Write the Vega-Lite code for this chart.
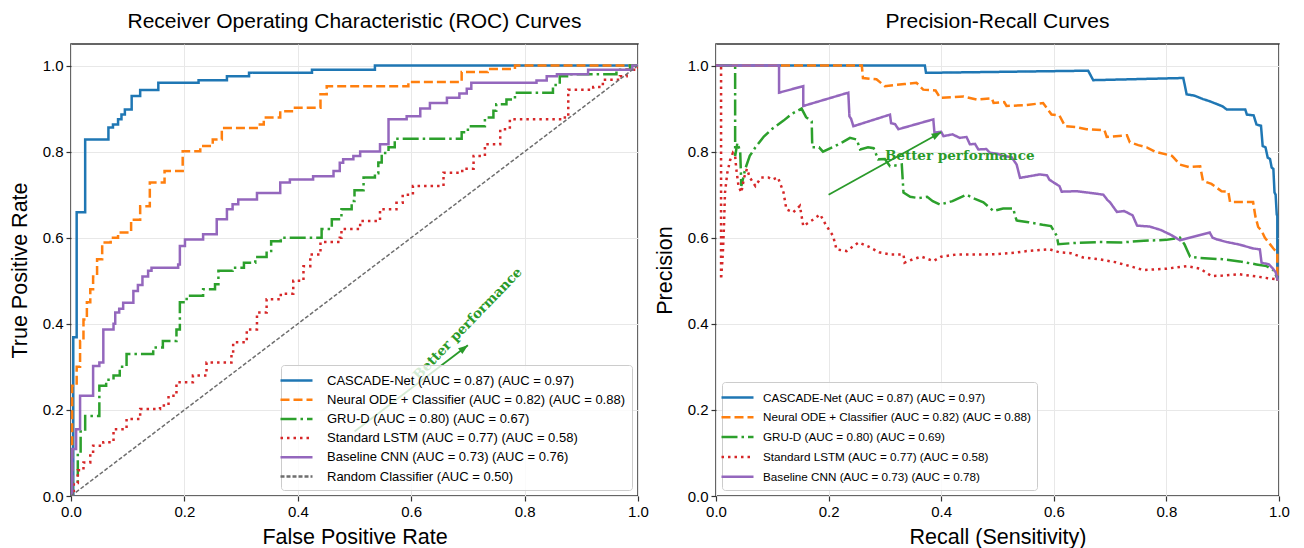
{
  "$schema": "https://vega.github.io/schema/vega-lite/v6.json",
  "background": "white",
  "padding": {"left": 8, "top": 10, "right": 25, "bottom": 2},
  "bounds": "flush",
  "spacing": 78,
  "config": {
    "font": "Liberation Sans",
    "view": {"stroke": "#333333", "strokeWidth": 1.5},
    "axis": {
      "grid": true, "gridColor": "#e8e8e8", "gridWidth": 1, "domain": false,
      "tickColor": "#333333", "tickSize": 5, "tickWidth": 1.2, "labelFlush": false,
      "labelFont": "Liberation Sans", "labelFontSize": 15, "labelColor": "#000000", "labelPadding": 3,
      "titleFont": "Liberation Sans", "titleFontSize": 21.5, "titleFontWeight": "normal", "titleColor": "#000000"
    },
    "axisX": {"titlePadding": 7},
    "axisY": {"titlePadding": 11},
    "title": {"font": "Liberation Sans", "fontSize": 21, "fontWeight": "normal", "color": "#000000", "offset": 12},
    "legend": {
      "labelFont": "Liberation Sans", "labelFontSize": 13, "labelColor": "#000000", "labelLimit": 0,
      "symbolType": "M-2,0H2", "symbolSize": 256, "symbolStrokeWidth": 2.5,
      "labelOffset": 21, "rowPadding": 2.2, "padding": 6,
      "fillColor": "rgba(255,255,255,0.8)", "strokeColor": "#cccccc", "cornerRadius": 3,
      "title": null
    }
  },
  "datasets": {
    "roc_labels": [
      {"model": "CASCADE-Net", "label": "CASCADE-Net (AUC = 0.87) (AUC = 0.97)"},
      {"model": "Neural ODE + Classifier", "label": "Neural ODE + Classifier (AUC = 0.82) (AUC = 0.88)"},
      {"model": "GRU-D", "label": "GRU-D (AUC = 0.80) (AUC = 0.67)"},
      {"model": "Standard LSTM", "label": "Standard LSTM (AUC = 0.77) (AUC = 0.58)"},
      {"model": "Baseline CNN", "label": "Baseline CNN (AUC = 0.73) (AUC = 0.76)"},
      {"model": "Random Classifier", "label": "Random Classifier (AUC = 0.50)"}
    ],
    "pr_labels": [
      {"model": "CASCADE-Net", "label": "CASCADE-Net (AUC = 0.87) (AUC = 0.97)"},
      {"model": "Neural ODE + Classifier", "label": "Neural ODE + Classifier (AUC = 0.82) (AUC = 0.88)"},
      {"model": "GRU-D", "label": "GRU-D (AUC = 0.80) (AUC = 0.69)"},
      {"model": "Standard LSTM", "label": "Standard LSTM (AUC = 0.77) (AUC = 0.58)"},
      {"model": "Baseline CNN", "label": "Baseline CNN (AUC = 0.73) (AUC = 0.78)"}
    ],
    "roc": [
      {"model": "CASCADE-Net", "x": 0, "y": 0},
      {"model": "CASCADE-Net", "x": 0.004, "y": 0.369},
      {"model": "CASCADE-Net", "x": 0.01, "y": 0.659},
      {"model": "CASCADE-Net", "x": 0.025, "y": 0.828},
      {"model": "CASCADE-Net", "x": 0.066, "y": 0.856},
      {"model": "CASCADE-Net", "x": 0.074, "y": 0.863},
      {"model": "CASCADE-Net", "x": 0.083, "y": 0.875},
      {"model": "CASCADE-Net", "x": 0.089, "y": 0.886},
      {"model": "CASCADE-Net", "x": 0.095, "y": 0.898},
      {"model": "CASCADE-Net", "x": 0.107, "y": 0.929},
      {"model": "CASCADE-Net", "x": 0.122, "y": 0.943},
      {"model": "CASCADE-Net", "x": 0.154, "y": 0.96},
      {"model": "CASCADE-Net", "x": 0.225, "y": 0.966},
      {"model": "CASCADE-Net", "x": 0.275, "y": 0.975},
      {"model": "CASCADE-Net", "x": 0.314, "y": 0.983},
      {"model": "CASCADE-Net", "x": 0.425, "y": 0.99},
      {"model": "CASCADE-Net", "x": 0.536, "y": 1.0},
      {"model": "CASCADE-Net", "x": 1.0, "y": 1.0},

      {"model": "Neural ODE + Classifier", "x": 0, "y": 0},
      {"model": "Neural ODE + Classifier", "x": 0.002, "y": 0.256},
      {"model": "Neural ODE + Classifier", "x": 0.01, "y": 0.3},
      {"model": "Neural ODE + Classifier", "x": 0.016, "y": 0.36},
      {"model": "Neural ODE + Classifier", "x": 0.022, "y": 0.41},
      {"model": "Neural ODE + Classifier", "x": 0.028, "y": 0.45},
      {"model": "Neural ODE + Classifier", "x": 0.034, "y": 0.48},
      {"model": "Neural ODE + Classifier", "x": 0.039, "y": 0.51},
      {"model": "Neural ODE + Classifier", "x": 0.046, "y": 0.55},
      {"model": "Neural ODE + Classifier", "x": 0.055, "y": 0.589},
      {"model": "Neural ODE + Classifier", "x": 0.07, "y": 0.6},
      {"model": "Neural ODE + Classifier", "x": 0.083, "y": 0.612},
      {"model": "Neural ODE + Classifier", "x": 0.106, "y": 0.642},
      {"model": "Neural ODE + Classifier", "x": 0.122, "y": 0.673},
      {"model": "Neural ODE + Classifier", "x": 0.139, "y": 0.728},
      {"model": "Neural ODE + Classifier", "x": 0.165, "y": 0.755},
      {"model": "Neural ODE + Classifier", "x": 0.197, "y": 0.801},
      {"model": "Neural ODE + Classifier", "x": 0.228, "y": 0.813},
      {"model": "Neural ODE + Classifier", "x": 0.25, "y": 0.828},
      {"model": "Neural ODE + Classifier", "x": 0.266, "y": 0.855},
      {"model": "Neural ODE + Classifier", "x": 0.333, "y": 0.863},
      {"model": "Neural ODE + Classifier", "x": 0.34, "y": 0.879},
      {"model": "Neural ODE + Classifier", "x": 0.369, "y": 0.894},
      {"model": "Neural ODE + Classifier", "x": 0.392, "y": 0.902},
      {"model": "Neural ODE + Classifier", "x": 0.44, "y": 0.933},
      {"model": "Neural ODE + Classifier", "x": 0.451, "y": 0.952},
      {"model": "Neural ODE + Classifier", "x": 0.595, "y": 0.962},
      {"model": "Neural ODE + Classifier", "x": 0.689, "y": 0.985},
      {"model": "Neural ODE + Classifier", "x": 0.735, "y": 0.992},
      {"model": "Neural ODE + Classifier", "x": 0.783, "y": 1.0},
      {"model": "Neural ODE + Classifier", "x": 1.0, "y": 1.0},

      {"model": "GRU-D", "x": 0, "y": 0},
      {"model": "GRU-D", "x": 0.003, "y": 0.03},
      {"model": "GRU-D", "x": 0.012, "y": 0.1},
      {"model": "GRU-D", "x": 0.017, "y": 0.15},
      {"model": "GRU-D", "x": 0.025, "y": 0.186},
      {"model": "GRU-D", "x": 0.05, "y": 0.256},
      {"model": "GRU-D", "x": 0.062, "y": 0.27},
      {"model": "GRU-D", "x": 0.075, "y": 0.28},
      {"model": "GRU-D", "x": 0.086, "y": 0.3},
      {"model": "GRU-D", "x": 0.098, "y": 0.33},
      {"model": "GRU-D", "x": 0.145, "y": 0.345},
      {"model": "GRU-D", "x": 0.162, "y": 0.36},
      {"model": "GRU-D", "x": 0.186, "y": 0.387},
      {"model": "GRU-D", "x": 0.192, "y": 0.45},
      {"model": "GRU-D", "x": 0.204, "y": 0.465},
      {"model": "GRU-D", "x": 0.233, "y": 0.48},
      {"model": "GRU-D", "x": 0.254, "y": 0.492},
      {"model": "GRU-D", "x": 0.26, "y": 0.523},
      {"model": "GRU-D", "x": 0.285, "y": 0.53},
      {"model": "GRU-D", "x": 0.305, "y": 0.542},
      {"model": "GRU-D", "x": 0.325, "y": 0.555},
      {"model": "GRU-D", "x": 0.345, "y": 0.569},
      {"model": "GRU-D", "x": 0.353, "y": 0.592},
      {"model": "GRU-D", "x": 0.37, "y": 0.6},
      {"model": "GRU-D", "x": 0.442, "y": 0.62},
      {"model": "GRU-D", "x": 0.46, "y": 0.643},
      {"model": "GRU-D", "x": 0.477, "y": 0.666},
      {"model": "GRU-D", "x": 0.495, "y": 0.685},
      {"model": "GRU-D", "x": 0.5, "y": 0.71},
      {"model": "GRU-D", "x": 0.516, "y": 0.74},
      {"model": "GRU-D", "x": 0.536, "y": 0.75},
      {"model": "GRU-D", "x": 0.542, "y": 0.775},
      {"model": "GRU-D", "x": 0.548, "y": 0.797},
      {"model": "GRU-D", "x": 0.56, "y": 0.81},
      {"model": "GRU-D", "x": 0.571, "y": 0.83},
      {"model": "GRU-D", "x": 0.689, "y": 0.845},
      {"model": "GRU-D", "x": 0.7, "y": 0.859},
      {"model": "GRU-D", "x": 0.73, "y": 0.879},
      {"model": "GRU-D", "x": 0.745, "y": 0.895},
      {"model": "GRU-D", "x": 0.75, "y": 0.91},
      {"model": "GRU-D", "x": 0.768, "y": 0.921},
      {"model": "GRU-D", "x": 0.783, "y": 0.937},
      {"model": "GRU-D", "x": 0.85, "y": 0.955},
      {"model": "GRU-D", "x": 0.862, "y": 0.975},
      {"model": "GRU-D", "x": 0.88, "y": 0.98},
      {"model": "GRU-D", "x": 0.962, "y": 0.99},
      {"model": "GRU-D", "x": 0.986, "y": 1.0},
      {"model": "GRU-D", "x": 1.0, "y": 1.0},

      {"model": "Standard LSTM", "x": 0, "y": 0},
      {"model": "Standard LSTM", "x": 0.005, "y": 0.03},
      {"model": "Standard LSTM", "x": 0.012, "y": 0.06},
      {"model": "Standard LSTM", "x": 0.022, "y": 0.078},
      {"model": "Standard LSTM", "x": 0.034, "y": 0.094},
      {"model": "Standard LSTM", "x": 0.039, "y": 0.117},
      {"model": "Standard LSTM", "x": 0.057, "y": 0.125},
      {"model": "Standard LSTM", "x": 0.075, "y": 0.155},
      {"model": "Standard LSTM", "x": 0.098, "y": 0.179},
      {"model": "Standard LSTM", "x": 0.122, "y": 0.202},
      {"model": "Standard LSTM", "x": 0.157, "y": 0.21},
      {"model": "Standard LSTM", "x": 0.172, "y": 0.233},
      {"model": "Standard LSTM", "x": 0.186, "y": 0.264},
      {"model": "Standard LSTM", "x": 0.215, "y": 0.28},
      {"model": "Standard LSTM", "x": 0.239, "y": 0.31},
      {"model": "Standard LSTM", "x": 0.283, "y": 0.33},
      {"model": "Standard LSTM", "x": 0.286, "y": 0.357},
      {"model": "Standard LSTM", "x": 0.31, "y": 0.387},
      {"model": "Standard LSTM", "x": 0.328, "y": 0.426},
      {"model": "Standard LSTM", "x": 0.345, "y": 0.457},
      {"model": "Standard LSTM", "x": 0.37, "y": 0.47},
      {"model": "Standard LSTM", "x": 0.392, "y": 0.5},
      {"model": "Standard LSTM", "x": 0.41, "y": 0.534},
      {"model": "Standard LSTM", "x": 0.422, "y": 0.561},
      {"model": "Standard LSTM", "x": 0.44, "y": 0.59},
      {"model": "Standard LSTM", "x": 0.474, "y": 0.6},
      {"model": "Standard LSTM", "x": 0.477, "y": 0.62},
      {"model": "Standard LSTM", "x": 0.51, "y": 0.639},
      {"model": "Standard LSTM", "x": 0.545, "y": 0.666},
      {"model": "Standard LSTM", "x": 0.574, "y": 0.681},
      {"model": "Standard LSTM", "x": 0.585, "y": 0.7},
      {"model": "Standard LSTM", "x": 0.603, "y": 0.72},
      {"model": "Standard LSTM", "x": 0.657, "y": 0.751},
      {"model": "Standard LSTM", "x": 0.69, "y": 0.76},
      {"model": "Standard LSTM", "x": 0.71, "y": 0.79},
      {"model": "Standard LSTM", "x": 0.73, "y": 0.817},
      {"model": "Standard LSTM", "x": 0.757, "y": 0.852},
      {"model": "Standard LSTM", "x": 0.774, "y": 0.875},
      {"model": "Standard LSTM", "x": 0.868, "y": 0.879},
      {"model": "Standard LSTM", "x": 0.877, "y": 0.944},
      {"model": "Standard LSTM", "x": 0.921, "y": 0.95},
      {"model": "Standard LSTM", "x": 0.938, "y": 0.967},
      {"model": "Standard LSTM", "x": 0.968, "y": 0.975},
      {"model": "Standard LSTM", "x": 0.98, "y": 0.99},
      {"model": "Standard LSTM", "x": 1.0, "y": 1.0},

      {"model": "Baseline CNN", "x": 0, "y": 0},
      {"model": "Baseline CNN", "x": 0.002, "y": 0.109},
      {"model": "Baseline CNN", "x": 0.009, "y": 0.155},
      {"model": "Baseline CNN", "x": 0.016, "y": 0.233},
      {"model": "Baseline CNN", "x": 0.039, "y": 0.302},
      {"model": "Baseline CNN", "x": 0.05, "y": 0.31},
      {"model": "Baseline CNN", "x": 0.057, "y": 0.387},
      {"model": "Baseline CNN", "x": 0.075, "y": 0.4},
      {"model": "Baseline CNN", "x": 0.078, "y": 0.426},
      {"model": "Baseline CNN", "x": 0.085, "y": 0.435},
      {"model": "Baseline CNN", "x": 0.092, "y": 0.449},
      {"model": "Baseline CNN", "x": 0.11, "y": 0.476},
      {"model": "Baseline CNN", "x": 0.118, "y": 0.49},
      {"model": "Baseline CNN", "x": 0.126, "y": 0.51},
      {"model": "Baseline CNN", "x": 0.136, "y": 0.523},
      {"model": "Baseline CNN", "x": 0.142, "y": 0.53},
      {"model": "Baseline CNN", "x": 0.189, "y": 0.538},
      {"model": "Baseline CNN", "x": 0.192, "y": 0.581},
      {"model": "Baseline CNN", "x": 0.201, "y": 0.596},
      {"model": "Baseline CNN", "x": 0.233, "y": 0.608},
      {"model": "Baseline CNN", "x": 0.257, "y": 0.643},
      {"model": "Baseline CNN", "x": 0.275, "y": 0.666},
      {"model": "Baseline CNN", "x": 0.285, "y": 0.678},
      {"model": "Baseline CNN", "x": 0.295, "y": 0.689},
      {"model": "Baseline CNN", "x": 0.328, "y": 0.704},
      {"model": "Baseline CNN", "x": 0.369, "y": 0.728},
      {"model": "Baseline CNN", "x": 0.386, "y": 0.735},
      {"model": "Baseline CNN", "x": 0.427, "y": 0.743},
      {"model": "Baseline CNN", "x": 0.463, "y": 0.755},
      {"model": "Baseline CNN", "x": 0.474, "y": 0.774},
      {"model": "Baseline CNN", "x": 0.48, "y": 0.782},
      {"model": "Baseline CNN", "x": 0.498, "y": 0.79},
      {"model": "Baseline CNN", "x": 0.51, "y": 0.8},
      {"model": "Baseline CNN", "x": 0.545, "y": 0.817},
      {"model": "Baseline CNN", "x": 0.56, "y": 0.875},
      {"model": "Baseline CNN", "x": 0.592, "y": 0.882},
      {"model": "Baseline CNN", "x": 0.616, "y": 0.9},
      {"model": "Baseline CNN", "x": 0.633, "y": 0.913},
      {"model": "Baseline CNN", "x": 0.663, "y": 0.925},
      {"model": "Baseline CNN", "x": 0.685, "y": 0.935},
      {"model": "Baseline CNN", "x": 0.698, "y": 0.946},
      {"model": "Baseline CNN", "x": 0.706, "y": 0.96},
      {"model": "Baseline CNN", "x": 0.821, "y": 0.965},
      {"model": "Baseline CNN", "x": 0.839, "y": 0.975},
      {"model": "Baseline CNN", "x": 0.857, "y": 0.98},
      {"model": "Baseline CNN", "x": 0.912, "y": 0.99},
      {"model": "Baseline CNN", "x": 0.99, "y": 1.0},
      {"model": "Baseline CNN", "x": 1.0, "y": 1.0},

      {"model": "Random Classifier", "x": 0, "y": 0},
      {"model": "Random Classifier", "x": 1, "y": 1}
    ],
    "pr": [
      {"model": "CASCADE-Net", "x": 0, "y": 1.0},
      {"model": "CASCADE-Net", "x": 0.371, "y": 1.0},
      {"model": "CASCADE-Net", "x": 0.373, "y": 0.983},
      {"model": "CASCADE-Net", "x": 0.661, "y": 0.988},
      {"model": "CASCADE-Net", "x": 0.67, "y": 0.966},
      {"model": "CASCADE-Net", "x": 0.83, "y": 0.971},
      {"model": "CASCADE-Net", "x": 0.836, "y": 0.933},
      {"model": "CASCADE-Net", "x": 0.85, "y": 0.93},
      {"model": "CASCADE-Net", "x": 0.865, "y": 0.922},
      {"model": "CASCADE-Net", "x": 0.877, "y": 0.917},
      {"model": "CASCADE-Net", "x": 0.9, "y": 0.905},
      {"model": "CASCADE-Net", "x": 0.907, "y": 0.898},
      {"model": "CASCADE-Net", "x": 0.94, "y": 0.898},
      {"model": "CASCADE-Net", "x": 0.943, "y": 0.886},
      {"model": "CASCADE-Net", "x": 0.955, "y": 0.884},
      {"model": "CASCADE-Net", "x": 0.96, "y": 0.863},
      {"model": "CASCADE-Net", "x": 0.968, "y": 0.86},
      {"model": "CASCADE-Net", "x": 0.971, "y": 0.813},
      {"model": "CASCADE-Net", "x": 0.976, "y": 0.81},
      {"model": "CASCADE-Net", "x": 0.98, "y": 0.786},
      {"model": "CASCADE-Net", "x": 0.984, "y": 0.783},
      {"model": "CASCADE-Net", "x": 0.987, "y": 0.763},
      {"model": "CASCADE-Net", "x": 0.99, "y": 0.76},
      {"model": "CASCADE-Net", "x": 0.992, "y": 0.705},
      {"model": "CASCADE-Net", "x": 0.994, "y": 0.7},
      {"model": "CASCADE-Net", "x": 0.996, "y": 0.654},
      {"model": "CASCADE-Net", "x": 0.997, "y": 0.65},
      {"model": "CASCADE-Net", "x": 0.997, "y": 0.5},

      {"model": "Neural ODE + Classifier", "x": 0, "y": 1.0},
      {"model": "Neural ODE + Classifier", "x": 0.259, "y": 1.0},
      {"model": "Neural ODE + Classifier", "x": 0.261, "y": 0.971},
      {"model": "Neural ODE + Classifier", "x": 0.285, "y": 0.968},
      {"model": "Neural ODE + Classifier", "x": 0.3, "y": 0.952},
      {"model": "Neural ODE + Classifier", "x": 0.335, "y": 0.957},
      {"model": "Neural ODE + Classifier", "x": 0.356, "y": 0.96},
      {"model": "Neural ODE + Classifier", "x": 0.368, "y": 0.944},
      {"model": "Neural ODE + Classifier", "x": 0.39, "y": 0.942},
      {"model": "Neural ODE + Classifier", "x": 0.398, "y": 0.925},
      {"model": "Neural ODE + Classifier", "x": 0.44, "y": 0.928},
      {"model": "Neural ODE + Classifier", "x": 0.463, "y": 0.921},
      {"model": "Neural ODE + Classifier", "x": 0.49, "y": 0.924},
      {"model": "Neural ODE + Classifier", "x": 0.493, "y": 0.913},
      {"model": "Neural ODE + Classifier", "x": 0.512, "y": 0.915},
      {"model": "Neural ODE + Classifier", "x": 0.516, "y": 0.906},
      {"model": "Neural ODE + Classifier", "x": 0.55, "y": 0.908},
      {"model": "Neural ODE + Classifier", "x": 0.581, "y": 0.913},
      {"model": "Neural ODE + Classifier", "x": 0.596, "y": 0.886},
      {"model": "Neural ODE + Classifier", "x": 0.61, "y": 0.884},
      {"model": "Neural ODE + Classifier", "x": 0.62, "y": 0.859},
      {"model": "Neural ODE + Classifier", "x": 0.64, "y": 0.857},
      {"model": "Neural ODE + Classifier", "x": 0.658, "y": 0.852},
      {"model": "Neural ODE + Classifier", "x": 0.69, "y": 0.85},
      {"model": "Neural ODE + Classifier", "x": 0.694, "y": 0.834},
      {"model": "Neural ODE + Classifier", "x": 0.73, "y": 0.838},
      {"model": "Neural ODE + Classifier", "x": 0.735, "y": 0.822},
      {"model": "Neural ODE + Classifier", "x": 0.75, "y": 0.815},
      {"model": "Neural ODE + Classifier", "x": 0.765, "y": 0.81},
      {"model": "Neural ODE + Classifier", "x": 0.78, "y": 0.8},
      {"model": "Neural ODE + Classifier", "x": 0.81, "y": 0.79},
      {"model": "Neural ODE + Classifier", "x": 0.824, "y": 0.77},
      {"model": "Neural ODE + Classifier", "x": 0.84, "y": 0.764},
      {"model": "Neural ODE + Classifier", "x": 0.86, "y": 0.766},
      {"model": "Neural ODE + Classifier", "x": 0.865, "y": 0.732},
      {"model": "Neural ODE + Classifier", "x": 0.88, "y": 0.725},
      {"model": "Neural ODE + Classifier", "x": 0.898, "y": 0.708},
      {"model": "Neural ODE + Classifier", "x": 0.91, "y": 0.707},
      {"model": "Neural ODE + Classifier", "x": 0.913, "y": 0.683},
      {"model": "Neural ODE + Classifier", "x": 0.954, "y": 0.683},
      {"model": "Neural ODE + Classifier", "x": 0.958, "y": 0.65},
      {"model": "Neural ODE + Classifier", "x": 0.963, "y": 0.625},
      {"model": "Neural ODE + Classifier", "x": 0.969, "y": 0.616},
      {"model": "Neural ODE + Classifier", "x": 0.975, "y": 0.6},
      {"model": "Neural ODE + Classifier", "x": 0.99, "y": 0.575},
      {"model": "Neural ODE + Classifier", "x": 0.997, "y": 0.565},
      {"model": "Neural ODE + Classifier", "x": 0.997, "y": 0.5},

      {"model": "GRU-D", "x": 0, "y": 1.0},
      {"model": "GRU-D", "x": 0.034, "y": 1.0},
      {"model": "GRU-D", "x": 0.034, "y": 0.79},
      {"model": "GRU-D", "x": 0.038, "y": 0.82},
      {"model": "GRU-D", "x": 0.043, "y": 0.8},
      {"model": "GRU-D", "x": 0.045, "y": 0.72},
      {"model": "GRU-D", "x": 0.052, "y": 0.76},
      {"model": "GRU-D", "x": 0.06, "y": 0.79},
      {"model": "GRU-D", "x": 0.07, "y": 0.81},
      {"model": "GRU-D", "x": 0.085, "y": 0.835},
      {"model": "GRU-D", "x": 0.1, "y": 0.853},
      {"model": "GRU-D", "x": 0.12, "y": 0.872},
      {"model": "GRU-D", "x": 0.135, "y": 0.888},
      {"model": "GRU-D", "x": 0.152, "y": 0.9},
      {"model": "GRU-D", "x": 0.16, "y": 0.88},
      {"model": "GRU-D", "x": 0.17, "y": 0.87},
      {"model": "GRU-D", "x": 0.171, "y": 0.81},
      {"model": "GRU-D", "x": 0.183, "y": 0.81},
      {"model": "GRU-D", "x": 0.19, "y": 0.8},
      {"model": "GRU-D", "x": 0.21, "y": 0.812},
      {"model": "GRU-D", "x": 0.225, "y": 0.822},
      {"model": "GRU-D", "x": 0.238, "y": 0.832},
      {"model": "GRU-D", "x": 0.25, "y": 0.828},
      {"model": "GRU-D", "x": 0.256, "y": 0.805},
      {"model": "GRU-D", "x": 0.27, "y": 0.81},
      {"model": "GRU-D", "x": 0.28, "y": 0.808},
      {"model": "GRU-D", "x": 0.288, "y": 0.782},
      {"model": "GRU-D", "x": 0.3, "y": 0.783},
      {"model": "GRU-D", "x": 0.309, "y": 0.766},
      {"model": "GRU-D", "x": 0.33, "y": 0.77},
      {"model": "GRU-D", "x": 0.333, "y": 0.705},
      {"model": "GRU-D", "x": 0.345, "y": 0.695},
      {"model": "GRU-D", "x": 0.36, "y": 0.692},
      {"model": "GRU-D", "x": 0.375, "y": 0.695},
      {"model": "GRU-D", "x": 0.385, "y": 0.685},
      {"model": "GRU-D", "x": 0.398, "y": 0.677},
      {"model": "GRU-D", "x": 0.42, "y": 0.685},
      {"model": "GRU-D", "x": 0.445, "y": 0.7},
      {"model": "GRU-D", "x": 0.46, "y": 0.69},
      {"model": "GRU-D", "x": 0.475, "y": 0.682},
      {"model": "GRU-D", "x": 0.493, "y": 0.662},
      {"model": "GRU-D", "x": 0.51, "y": 0.668},
      {"model": "GRU-D", "x": 0.528, "y": 0.668},
      {"model": "GRU-D", "x": 0.531, "y": 0.652},
      {"model": "GRU-D", "x": 0.534, "y": 0.64},
      {"model": "GRU-D", "x": 0.555, "y": 0.636},
      {"model": "GRU-D", "x": 0.58, "y": 0.63},
      {"model": "GRU-D", "x": 0.595, "y": 0.627},
      {"model": "GRU-D", "x": 0.605, "y": 0.605},
      {"model": "GRU-D", "x": 0.608, "y": 0.585},
      {"model": "GRU-D", "x": 0.64, "y": 0.588},
      {"model": "GRU-D", "x": 0.68, "y": 0.59},
      {"model": "GRU-D", "x": 0.72, "y": 0.589},
      {"model": "GRU-D", "x": 0.76, "y": 0.593},
      {"model": "GRU-D", "x": 0.8, "y": 0.595},
      {"model": "GRU-D", "x": 0.824, "y": 0.6},
      {"model": "GRU-D", "x": 0.832, "y": 0.585},
      {"model": "GRU-D", "x": 0.842, "y": 0.556},
      {"model": "GRU-D", "x": 0.86, "y": 0.553},
      {"model": "GRU-D", "x": 0.9, "y": 0.55},
      {"model": "GRU-D", "x": 0.93, "y": 0.545},
      {"model": "GRU-D", "x": 0.96, "y": 0.538},
      {"model": "GRU-D", "x": 0.978, "y": 0.534},
      {"model": "GRU-D", "x": 0.99, "y": 0.525},
      {"model": "GRU-D", "x": 0.998, "y": 0.503},

      {"model": "Standard LSTM", "x": 0, "y": 1.0},
      {"model": "Standard LSTM", "x": 0.009, "y": 1.0},
      {"model": "Standard LSTM", "x": 0.009, "y": 0.503},
      {"model": "Standard LSTM", "x": 0.012, "y": 0.56},
      {"model": "Standard LSTM", "x": 0.014, "y": 0.62},
      {"model": "Standard LSTM", "x": 0.016, "y": 0.705},
      {"model": "Standard LSTM", "x": 0.02, "y": 0.75},
      {"model": "Standard LSTM", "x": 0.025, "y": 0.78},
      {"model": "Standard LSTM", "x": 0.03, "y": 0.797},
      {"model": "Standard LSTM", "x": 0.034, "y": 0.79},
      {"model": "Standard LSTM", "x": 0.036, "y": 0.76},
      {"model": "Standard LSTM", "x": 0.04, "y": 0.72},
      {"model": "Standard LSTM", "x": 0.045, "y": 0.705},
      {"model": "Standard LSTM", "x": 0.05, "y": 0.74},
      {"model": "Standard LSTM", "x": 0.055, "y": 0.76},
      {"model": "Standard LSTM", "x": 0.06, "y": 0.74},
      {"model": "Standard LSTM", "x": 0.07, "y": 0.72},
      {"model": "Standard LSTM", "x": 0.08, "y": 0.74},
      {"model": "Standard LSTM", "x": 0.093, "y": 0.74},
      {"model": "Standard LSTM", "x": 0.1, "y": 0.735},
      {"model": "Standard LSTM", "x": 0.11, "y": 0.74},
      {"model": "Standard LSTM", "x": 0.12, "y": 0.705},
      {"model": "Standard LSTM", "x": 0.125, "y": 0.666},
      {"model": "Standard LSTM", "x": 0.137, "y": 0.659},
      {"model": "Standard LSTM", "x": 0.149, "y": 0.674},
      {"model": "Standard LSTM", "x": 0.155, "y": 0.627},
      {"model": "Standard LSTM", "x": 0.17, "y": 0.64},
      {"model": "Standard LSTM", "x": 0.185, "y": 0.654},
      {"model": "Standard LSTM", "x": 0.195, "y": 0.63},
      {"model": "Standard LSTM", "x": 0.208, "y": 0.604},
      {"model": "Standard LSTM", "x": 0.214, "y": 0.573},
      {"model": "Standard LSTM", "x": 0.232, "y": 0.569},
      {"model": "Standard LSTM", "x": 0.253, "y": 0.589},
      {"model": "Standard LSTM", "x": 0.27, "y": 0.58},
      {"model": "Standard LSTM", "x": 0.29, "y": 0.566},
      {"model": "Standard LSTM", "x": 0.309, "y": 0.561},
      {"model": "Standard LSTM", "x": 0.333, "y": 0.561},
      {"model": "Standard LSTM", "x": 0.335, "y": 0.542},
      {"model": "Standard LSTM", "x": 0.35, "y": 0.55},
      {"model": "Standard LSTM", "x": 0.365, "y": 0.556},
      {"model": "Standard LSTM", "x": 0.386, "y": 0.546},
      {"model": "Standard LSTM", "x": 0.4, "y": 0.556},
      {"model": "Standard LSTM", "x": 0.427, "y": 0.561},
      {"model": "Standard LSTM", "x": 0.47, "y": 0.561},
      {"model": "Standard LSTM", "x": 0.5, "y": 0.562},
      {"model": "Standard LSTM", "x": 0.53, "y": 0.565},
      {"model": "Standard LSTM", "x": 0.552, "y": 0.569},
      {"model": "Standard LSTM", "x": 0.593, "y": 0.573},
      {"model": "Standard LSTM", "x": 0.61, "y": 0.566},
      {"model": "Standard LSTM", "x": 0.63, "y": 0.564},
      {"model": "Standard LSTM", "x": 0.652, "y": 0.554},
      {"model": "Standard LSTM", "x": 0.68, "y": 0.55},
      {"model": "Standard LSTM", "x": 0.71, "y": 0.543},
      {"model": "Standard LSTM", "x": 0.735, "y": 0.534},
      {"model": "Standard LSTM", "x": 0.759, "y": 0.525},
      {"model": "Standard LSTM", "x": 0.8, "y": 0.528},
      {"model": "Standard LSTM", "x": 0.836, "y": 0.534},
      {"model": "Standard LSTM", "x": 0.86, "y": 0.528},
      {"model": "Standard LSTM", "x": 0.88, "y": 0.511},
      {"model": "Standard LSTM", "x": 0.9, "y": 0.512},
      {"model": "Standard LSTM", "x": 0.93, "y": 0.515},
      {"model": "Standard LSTM", "x": 0.96, "y": 0.51},
      {"model": "Standard LSTM", "x": 0.98, "y": 0.506},
      {"model": "Standard LSTM", "x": 0.998, "y": 0.503},

      {"model": "Baseline CNN", "x": 0, "y": 1.0},
      {"model": "Baseline CNN", "x": 0.112, "y": 1.0},
      {"model": "Baseline CNN", "x": 0.112, "y": 0.937},
      {"model": "Baseline CNN", "x": 0.155, "y": 0.952},
      {"model": "Baseline CNN", "x": 0.155, "y": 0.906},
      {"model": "Baseline CNN", "x": 0.235, "y": 0.937},
      {"model": "Baseline CNN", "x": 0.237, "y": 0.882},
      {"model": "Baseline CNN", "x": 0.24, "y": 0.876},
      {"model": "Baseline CNN", "x": 0.244, "y": 0.859},
      {"model": "Baseline CNN", "x": 0.309, "y": 0.886},
      {"model": "Baseline CNN", "x": 0.311, "y": 0.866},
      {"model": "Baseline CNN", "x": 0.318, "y": 0.864},
      {"model": "Baseline CNN", "x": 0.324, "y": 0.852},
      {"model": "Baseline CNN", "x": 0.386, "y": 0.875},
      {"model": "Baseline CNN", "x": 0.388, "y": 0.844},
      {"model": "Baseline CNN", "x": 0.4, "y": 0.846},
      {"model": "Baseline CNN", "x": 0.404, "y": 0.836},
      {"model": "Baseline CNN", "x": 0.42, "y": 0.84},
      {"model": "Baseline CNN", "x": 0.433, "y": 0.832},
      {"model": "Baseline CNN", "x": 0.445, "y": 0.834},
      {"model": "Baseline CNN", "x": 0.451, "y": 0.817},
      {"model": "Baseline CNN", "x": 0.46, "y": 0.818},
      {"model": "Baseline CNN", "x": 0.466, "y": 0.805},
      {"model": "Baseline CNN", "x": 0.48, "y": 0.806},
      {"model": "Baseline CNN", "x": 0.487, "y": 0.797},
      {"model": "Baseline CNN", "x": 0.5, "y": 0.795},
      {"model": "Baseline CNN", "x": 0.51, "y": 0.79},
      {"model": "Baseline CNN", "x": 0.525, "y": 0.787},
      {"model": "Baseline CNN", "x": 0.534, "y": 0.77},
      {"model": "Baseline CNN", "x": 0.54, "y": 0.739},
      {"model": "Baseline CNN", "x": 0.575, "y": 0.747},
      {"model": "Baseline CNN", "x": 0.588, "y": 0.745},
      {"model": "Baseline CNN", "x": 0.592, "y": 0.735},
      {"model": "Baseline CNN", "x": 0.6, "y": 0.728},
      {"model": "Baseline CNN", "x": 0.61, "y": 0.72},
      {"model": "Baseline CNN", "x": 0.614, "y": 0.707},
      {"model": "Baseline CNN", "x": 0.64, "y": 0.708},
      {"model": "Baseline CNN", "x": 0.66, "y": 0.705},
      {"model": "Baseline CNN", "x": 0.688, "y": 0.7},
      {"model": "Baseline CNN", "x": 0.695, "y": 0.688},
      {"model": "Baseline CNN", "x": 0.7, "y": 0.682},
      {"model": "Baseline CNN", "x": 0.712, "y": 0.66},
      {"model": "Baseline CNN", "x": 0.725, "y": 0.662},
      {"model": "Baseline CNN", "x": 0.74, "y": 0.652},
      {"model": "Baseline CNN", "x": 0.748, "y": 0.628},
      {"model": "Baseline CNN", "x": 0.77, "y": 0.626},
      {"model": "Baseline CNN", "x": 0.79, "y": 0.618},
      {"model": "Baseline CNN", "x": 0.809, "y": 0.606},
      {"model": "Baseline CNN", "x": 0.824, "y": 0.594},
      {"model": "Baseline CNN", "x": 0.877, "y": 0.612},
      {"model": "Baseline CNN", "x": 0.882, "y": 0.6},
      {"model": "Baseline CNN", "x": 0.89, "y": 0.596},
      {"model": "Baseline CNN", "x": 0.907, "y": 0.59},
      {"model": "Baseline CNN", "x": 0.93, "y": 0.584},
      {"model": "Baseline CNN", "x": 0.954, "y": 0.575},
      {"model": "Baseline CNN", "x": 0.966, "y": 0.573},
      {"model": "Baseline CNN", "x": 0.969, "y": 0.542},
      {"model": "Baseline CNN", "x": 0.982, "y": 0.538},
      {"model": "Baseline CNN", "x": 0.988, "y": 0.53},
      {"model": "Baseline CNN", "x": 0.994, "y": 0.52},
      {"model": "Baseline CNN", "x": 0.998, "y": 0.5}
    ],
    "roc_arrow": [{"x": 0.5, "y": 0.15, "x2": 0.7, "y2": 0.35}],
    "roc_note": [{"x": 0.7, "y": 0.4, "text": "Better performance"}],
    "pr_arrow": [{"x": 0.2, "y": 0.7, "x2": 0.4, "y2": 0.845}],
    "pr_note": [{"x": 0.3, "y": 0.789, "text": "Better performance"}]
  },
  "resolve": {
    "scale": {"color": "independent", "strokeDash": "independent", "x": "independent", "y": "independent"},
    "legend": {"color": "independent", "strokeDash": "independent"}
  },
  "hconcat": [
    {
      "width": 567,
      "height": 452,
      "title": {"text": "Receiver Operating Characteristic (ROC) Curves"},
      "layer": [
        {
          "data": {"name": "roc"},
          "transform": [
            {"filter": "datum.model != 'Random Classifier'"},
            {"lookup": "model", "from": {"data": {"name": "roc_labels"}, "key": "model", "fields": ["label"]}}
          ],
          "mark": {"type": "line", "interpolate": "step-after", "strokeWidth": 2.5, "clip": true},
          "encoding": {
            "x": {"field": "x", "type": "quantitative", "scale": {"domain": [0, 1], "nice": false, "zero": false},
                  "axis": {"title": "False Positive Rate", "values": [0, 0.2, 0.4, 0.6, 0.8, 1.0], "format": ".1f"}},
            "y": {"field": "y", "type": "quantitative", "scale": {"domain": [0, 1.05], "nice": false, "zero": false},
                  "axis": {"title": "True Positive Rate", "values": [0, 0.2, 0.4, 0.6, 0.8, 1.0], "format": ".1f"}},
            "color": {"field": "label", "type": "nominal",
              "scale": {"domain": [
                "CASCADE-Net (AUC = 0.87) (AUC = 0.97)",
                "Neural ODE + Classifier (AUC = 0.82) (AUC = 0.88)",
                "GRU-D (AUC = 0.80) (AUC = 0.67)",
                "Standard LSTM (AUC = 0.77) (AUC = 0.58)",
                "Baseline CNN (AUC = 0.73) (AUC = 0.76)",
                "Random Classifier (AUC = 0.50)"],
                "range": ["#1f77b4", "#ff7f0e", "#2ca02c", "#d62728", "#9467bd", "#6e6e6e"]},
              "legend": {"orient": "bottom-right", "offset": 6, "labelFontSize": 13, "labelOffset": 21, "rowPadding": 2.2, "padding": 6}},
            "strokeDash": {"field": "label", "type": "nominal",
              "scale": {"domain": [
                "CASCADE-Net (AUC = 0.87) (AUC = 0.97)",
                "Neural ODE + Classifier (AUC = 0.82) (AUC = 0.88)",
                "GRU-D (AUC = 0.80) (AUC = 0.67)",
                "Standard LSTM (AUC = 0.77) (AUC = 0.58)",
                "Baseline CNN (AUC = 0.73) (AUC = 0.76)",
                "Random Classifier (AUC = 0.50)"],
                "range": [[1, 0], [9, 4], [16, 4, 2.5, 4], [2.5, 4], [1, 0], [4, 2]]},
              "legend": {"orient": "bottom-right", "offset": 6, "labelFontSize": 13, "labelOffset": 21, "rowPadding": 2.2, "padding": 6}},
            "order": {"value": null}
          }
        },
        {
          "data": {"name": "roc"},
          "transform": [
            {"filter": "datum.model == 'Random Classifier'"},
            {"lookup": "model", "from": {"data": {"name": "roc_labels"}, "key": "model", "fields": ["label"]}}
          ],
          "mark": {"type": "line", "strokeWidth": 1.5},
          "encoding": {
            "x": {"field": "x", "type": "quantitative"},
            "y": {"field": "y", "type": "quantitative"},
            "color": {"field": "label", "type": "nominal"},
            "strokeDash": {"field": "label", "type": "nominal"}
          }
        },
        {
          "data": {"name": "roc_note"},
          "mark": {"type": "text", "font": "DejaVu Serif", "fontWeight": "bold", "fontSize": 13.5, "color": "#2a9a2a", "angle": 314, "align": "center", "baseline": "middle"},
          "encoding": {
            "x": {"field": "x", "type": "quantitative"},
            "y": {"field": "y", "type": "quantitative"},
            "text": {"field": "text"}
          }
        },
        {
          "data": {"name": "roc_arrow"},
          "mark": {"type": "rule", "color": "#2a9a2a", "strokeWidth": 1.8},
          "encoding": {
            "x": {"field": "x", "type": "quantitative"},
            "y": {"field": "y", "type": "quantitative"},
            "x2": {"field": "x2"},
            "y2": {"field": "y2"}
          }
        },
        {
          "data": {"name": "roc_arrow"},
          "mark": {"type": "point", "shape": "M0,0L-2.4,-0.9L-2.4,0.9Z", "filled": true, "size": 64, "color": "#2a9a2a", "opacity": 1, "angle": 323},
          "encoding": {
            "x": {"field": "x2", "type": "quantitative"},
            "y": {"field": "y2", "type": "quantitative"}
          }
        }
      ]
    },
    {
      "width": 563,
      "height": 452,
      "title": {"text": "Precision-Recall Curves"},
      "layer": [
        {
          "data": {"name": "pr"},
          "transform": [
            {"lookup": "model", "from": {"data": {"name": "pr_labels"}, "key": "model", "fields": ["label"]}}
          ],
          "mark": {"type": "line", "strokeWidth": 2.5, "clip": true},
          "encoding": {
            "x": {"field": "x", "type": "quantitative", "scale": {"domain": [0, 1], "nice": false, "zero": false},
                  "axis": {"title": "Recall (Sensitivity)", "values": [0, 0.2, 0.4, 0.6, 0.8, 1.0], "format": ".1f"}},
            "y": {"field": "y", "type": "quantitative", "scale": {"domain": [0, 1.05], "nice": false, "zero": false},
                  "axis": {"title": "Precision", "values": [0, 0.2, 0.4, 0.6, 0.8, 1.0], "format": ".1f"}},
            "color": {"field": "label", "type": "nominal",
              "scale": {"domain": [
                "CASCADE-Net (AUC = 0.87) (AUC = 0.97)",
                "Neural ODE + Classifier (AUC = 0.82) (AUC = 0.88)",
                "GRU-D (AUC = 0.80) (AUC = 0.69)",
                "Standard LSTM (AUC = 0.77) (AUC = 0.58)",
                "Baseline CNN (AUC = 0.73) (AUC = 0.78)"],
                "range": ["#1f77b4", "#ff7f0e", "#2ca02c", "#d62728", "#9467bd"]},
              "legend": {"orient": "bottom-left", "offset": 6, "labelFontSize": 11.7, "labelOffset": 16, "rowPadding": 2.8, "padding": 6}},
            "strokeDash": {"field": "label", "type": "nominal",
              "scale": {"domain": [
                "CASCADE-Net (AUC = 0.87) (AUC = 0.97)",
                "Neural ODE + Classifier (AUC = 0.82) (AUC = 0.88)",
                "GRU-D (AUC = 0.80) (AUC = 0.69)",
                "Standard LSTM (AUC = 0.77) (AUC = 0.58)",
                "Baseline CNN (AUC = 0.73) (AUC = 0.78)"],
                "range": [[1, 0], [9, 4], [16, 4, 2.5, 4], [2.5, 4], [1, 0]]},
              "legend": {"orient": "bottom-left", "offset": 6, "labelFontSize": 11.7, "labelOffset": 16, "rowPadding": 2.8, "padding": 6}},
            "order": {"value": null}
          }
        },
        {
          "data": {"name": "pr_note"},
          "mark": {"type": "text", "font": "DejaVu Serif", "fontWeight": "bold", "fontSize": 13.5, "color": "#2a9a2a", "align": "left", "baseline": "middle"},
          "encoding": {
            "x": {"field": "x", "type": "quantitative"},
            "y": {"field": "y", "type": "quantitative"},
            "text": {"field": "text"}
          }
        },
        {
          "data": {"name": "pr_arrow"},
          "mark": {"type": "rule", "color": "#2a9a2a", "strokeWidth": 1.8},
          "encoding": {
            "x": {"field": "x", "type": "quantitative"},
            "y": {"field": "y", "type": "quantitative"},
            "x2": {"field": "x2"},
            "y2": {"field": "y2"}
          }
        },
        {
          "data": {"name": "pr_arrow"},
          "mark": {"type": "point", "shape": "M0,0L-2.4,-0.9L-2.4,0.9Z", "filled": true, "size": 64, "color": "#2a9a2a", "opacity": 1, "angle": 331},
          "encoding": {
            "x": {"field": "x2", "type": "quantitative"},
            "y": {"field": "y2", "type": "quantitative"}
          }
        }
      ]
    }
  ]
}
